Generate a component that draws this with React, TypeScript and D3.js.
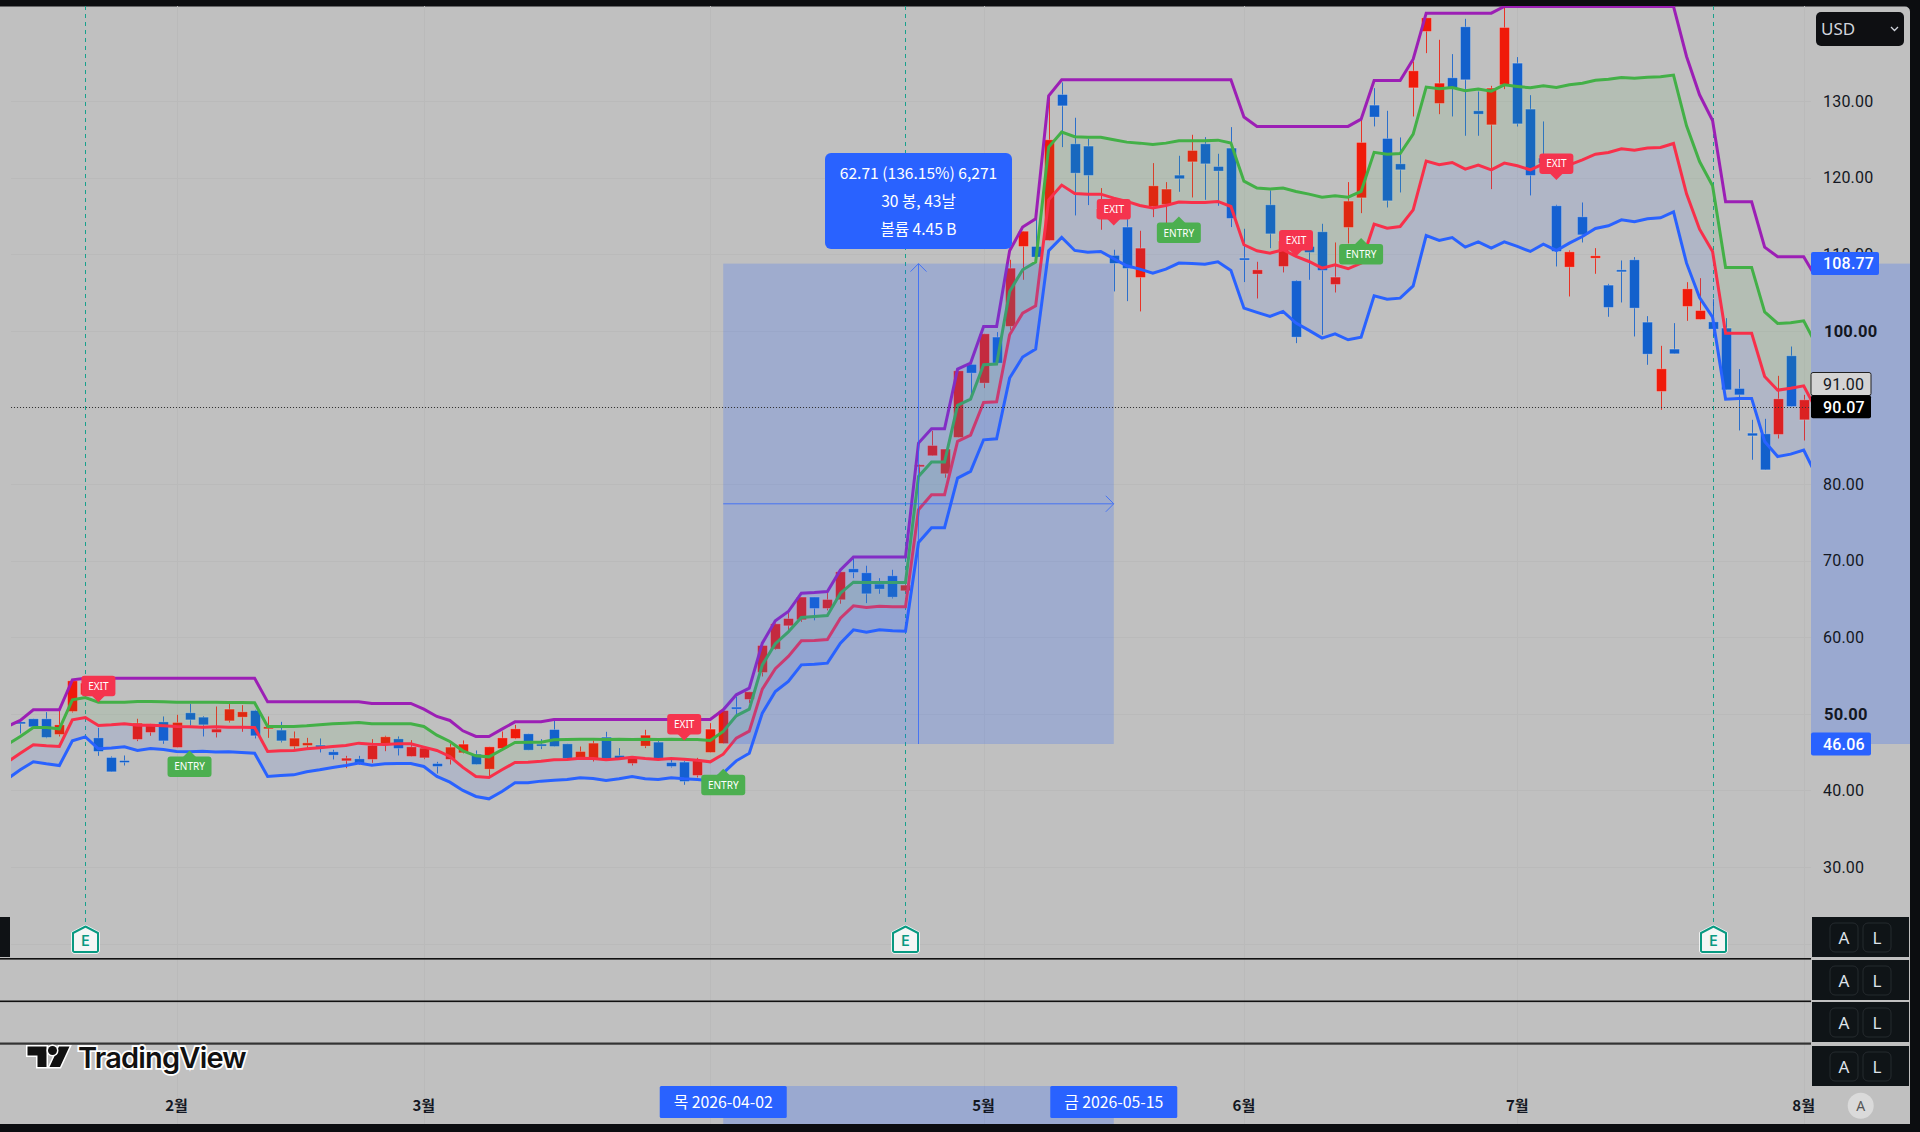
import { useRef, useEffect } from 'react';
import * as d3 from 'd3';

// candles, one row per ten bars
const opens = [
  48.95, 49.35, 49.35, 47.3, 50.3, 52.5, 46.86, 44.3, 43.9, 46.65,
  47.56, 48.95, 45.6, 50.13, 49.56, 47.56, 49.08, 49.56, 50.43, 48.08,
  47.87, 45.73, 45.86, 45.91, 45.04, 43.86, 44.12, 44.04, 46.04, 46.73,
  44.43, 44.25, 43.51, 44.04, 44.91, 44.73, 42.77, 45.47, 46.78, 47.39,
  46.04, 47.95, 46.08, 44.17, 44.08, 46.95, 44.56, 43.51, 45.78, 46.3,
  43.64, 43.69, 41.95, 44.95, 46.12, 50.87, 51.87, 55.39, 58.44, 61.49,
  62.27, 65.24, 63.75, 64.89, 68.93, 68.41, 66.93, 68.02, 66.06, 82.29,
  83.69, 81.34, 86.08, 95.61, 93.17, 99.18, 100.57, 111.01, 111.01, 111.79,
  130.85, 124.41, 124.11, 114.67, 109.84, 113.54, 106.96, 116.23, 116.5, 120.32,
  122.06, 124.41, 121.45, 123.85, 109.49, 107.4, 116.45, 108.4, 106.53, 111.01,
  112.93, 106.05, 113.49, 117.36, 129.46, 125.11, 121.8, 131.72, 139.08, 129.68,
  133.03, 139.69, 128.72, 126.89, 132.11, 134.94, 128.94, 122.54, 116.32, 108.31,
  114.88, 109.48, 105.96, 107.96, 109.27, 101.13, 92.08, 97.61, 103.18, 101.48,
  101.17, 100.35, 92.47, 86.64, 86.55, 86.47, 96.74, 88.38,
];
const highs = [
  48.95, 49.35, 50.22, 50.52, 54.31, 54.2, 48.17, 44.43, 44.56, 49.35,
  48.69, 49.65, 49.87, 51.3, 49.69, 50.95, 51.3, 51.13, 50.52, 49.65,
  48.95, 47.69, 46.86, 46.78, 45.3, 44.51, 44.51, 46.69, 47.13, 47.04,
  46.56, 45.52, 43.73, 46.08, 46.52, 45.21, 45.69, 47.69, 48.56, 47.39,
  46.69, 49.08, 46.08, 45.73, 46.52, 47.65, 45.52, 44.21, 47.91, 46.52,
  43.99, 43.86, 44.25, 48.78, 50.52, 52.26, 52.87, 58.92, 61.83, 63.14,
  65.24, 65.24, 65.76, 68.54, 70.33, 69.33, 67.71, 68.8, 66.9, 82.55,
  86.95, 84.56, 94.78, 95.61, 99.61, 99.83, 109.27, 113.0, 114.62, 131.03,
  132.42, 127.81, 125.07, 118.63, 110.58, 114.58, 113.06, 121.89, 119.41, 122.85,
  125.59, 125.28, 123.11, 126.59, 113.32, 109.01, 118.32, 111.9, 106.6, 113.0,
  113.97, 111.53, 119.41, 127.55, 131.68, 128.72, 125.24, 135.16, 140.86, 137.99,
  136.12, 140.73, 131.24, 131.98, 142.34, 135.73, 130.76, 127.33, 116.45, 110.49,
  116.75, 110.79, 106.13, 109.18, 109.62, 101.91, 98.04, 101.0, 106.35, 106.87,
  104.13, 101.65, 95.0, 88.38, 88.51, 94.12, 97.95, 91.64,
];
const lows = [
  47.43, 48.3, 46.82, 47.04, 50.17, 52.3, 44.51, 42.43, 43.25, 46.43,
  47.13, 46.08, 45.6, 48.47, 47.04, 46.91, 48.87, 47.65, 46.78, 46.86,
  46.26, 45.43, 45.52, 44.95, 44.04, 42.9, 43.34, 43.6, 45.12, 44.56,
  44.43, 44.08, 42.2, 43.38, 44.82, 43.38, 41.82, 45.39, 46.69, 45.25,
  45.39, 45.73, 44.17, 44.17, 43.77, 44.12, 44.17, 43.25, 45.52, 44.17,
  42.99, 40.73, 41.69, 44.95, 46.12, 49.65, 51.39, 54.87, 58.35, 60.88,
  62.0, 62.2, 63.5, 64.37, 67.71, 64.45, 65.67, 65.06, 65.9, 81.2,
  83.69, 80.81, 86.08, 91.52, 92.52, 95.78, 100.13, 106.66, 109.62, 111.79,
  123.98, 115.06, 116.41, 113.19, 105.14, 103.87, 102.53, 114.84, 114.06, 118.15,
  117.41, 117.1, 116.32, 113.54, 106.36, 104.22, 110.79, 107.62, 98.39, 106.66,
  99.48, 105.0, 111.4, 115.36, 126.68, 116.1, 118.06, 127.98, 136.25, 128.28,
  127.98, 125.46, 125.46, 118.49, 131.55, 126.67, 117.67, 121.7, 108.4, 104.48,
  111.53, 107.44, 101.83, 103.7, 99.26, 95.56, 89.69, 97.0, 101.3, 101.48,
  99.26, 92.3, 86.99, 83.16, 81.85, 85.94, 90.12, 85.68,
];
const closes = [
  48.78, 48.3, 46.91, 48.56, 54.31, 54.0, 45.08, 42.43, 43.82, 48.78,
  48.69, 46.47, 48.87, 49.21, 48.56, 48.0, 50.61, 50.26, 47.13, 48.3,
  46.47, 46.82, 46.21, 45.73, 44.6, 44.21, 43.47, 45.86, 47.0, 45.47,
  45.69, 45.52, 43.12, 45.65, 46.04, 43.38, 45.69, 46.86, 48.04, 45.25,
  45.82, 45.73, 44.17, 45.08, 46.17, 44.12, 44.17, 44.21, 47.21, 44.17,
  43.12, 41.16, 43.99, 48.0, 50.43, 50.78, 52.87, 58.92, 61.75, 62.44,
  65.24, 63.75, 64.93, 68.54, 68.45, 65.67, 66.28, 65.23, 66.8, 82.51,
  85.03, 84.56, 94.78, 94.48, 99.61, 95.78, 108.18, 113.0, 109.62, 124.94,
  129.37, 120.58, 120.28, 115.9, 108.79, 108.14, 110.79, 118.93, 118.5, 119.85,
  123.54, 121.8, 120.85, 114.67, 109.31, 107.96, 112.66, 111.71, 99.17, 110.23,
  107.88, 107.01, 116.93, 124.59, 127.9, 116.97, 121.02, 133.94, 140.86, 132.33,
  131.68, 132.77, 128.28, 131.68, 139.6, 127.02, 120.28, 121.9, 110.36, 110.31,
  112.53, 109.79, 103.05, 107.74, 102.96, 96.95, 95.04, 97.0, 105.48, 102.65,
  100.22, 92.3, 91.64, 86.29, 81.85, 91.12, 90.12, 90.99,
];

// bands start one bar before the first candle and run one bar past the last
const BAND_START = -1;
const purpleBand = [
  48.35, 49.13, 50.52, 50.52, 50.52, 54.44, 54.65, 54.65, 54.65, 54.65, 54.65,
  54.65, 54.65, 54.65, 54.65, 54.65, 54.65, 54.65, 54.65, 54.65, 51.56,
  51.56, 51.56, 51.56, 51.56, 51.56, 51.56, 51.56, 51.35, 51.35, 51.35,
  51.35, 50.61, 49.65, 49.13, 47.78, 47.04, 47.04, 48.0, 48.95, 48.95,
  48.95, 49.26, 49.26, 49.26, 49.26, 49.26, 49.26, 49.26, 49.26, 49.26,
  49.26, 49.26, 49.26, 49.26, 50.52, 52.48, 53.35, 59.22, 62.14, 63.35,
  65.75, 65.84, 65.97, 68.79, 70.46, 70.46, 70.46, 70.46, 70.46, 85.34,
  87.21, 87.21, 95.0, 95.78, 100.57, 100.57, 110.45, 113.54, 114.62, 130.68,
  132.77, 132.77, 132.77, 132.77, 132.77, 132.77, 132.77, 132.77, 132.77, 132.77,
  132.77, 132.77, 132.77, 132.77, 127.9, 126.68, 126.68, 126.68, 126.68, 126.68,
  126.68, 126.68, 126.68, 127.63, 132.68, 132.68, 132.68, 135.46, 141.47, 141.47,
  141.47, 141.47, 141.47, 141.47, 142.34, 142.34, 142.34, 142.34, 142.34, 142.34,
  142.34, 142.34, 142.34, 142.34, 142.34, 142.34, 142.34, 142.34, 135.81, 130.81,
  127.46, 116.84, 116.84, 116.84, 110.92, 109.66, 109.66, 109.66, 106.79,
];
const greenBand = [
  46.0, 47.04, 48.21, 48.21, 48.04, 51.83, 52.13, 51.52, 51.52, 51.52, 51.61,
  51.61, 51.57, 51.52, 51.52, 51.5, 51.5, 51.48, 51.46, 51.43, 48.34,
  48.34, 48.34, 48.43, 48.56, 48.69, 48.78, 48.87, 48.69, 48.69, 48.69,
  48.69, 48.34, 47.21, 46.39, 45.17, 44.52, 44.38, 45.3, 46.26, 46.3,
  46.3, 46.6, 46.65, 46.69, 46.69, 46.65, 46.69, 46.65, 46.69, 46.65,
  46.69, 46.65, 46.65, 46.52, 47.69, 49.74, 50.61, 56.39, 59.15, 60.7,
  62.57, 62.7, 62.83, 65.75, 67.18, 67.14, 67.14, 67.14, 67.14, 80.99,
  82.86, 82.86, 90.26, 91.08, 95.57, 95.65, 105.14, 107.97, 108.97, 123.98,
  125.94, 125.33, 125.28, 125.28, 124.94, 124.63, 124.5, 124.33, 124.5, 124.8,
  124.8, 124.8, 124.89, 124.5, 119.54, 118.63, 118.5, 118.63, 118.19, 117.84,
  117.45, 117.63, 117.45, 118.19, 123.3, 123.06, 123.15, 125.67, 131.81, 131.59,
  131.77, 131.33, 131.55, 131.29, 132.11, 131.9, 131.72, 131.98, 131.77, 132.11,
  132.33, 132.72, 132.85, 133.07, 132.98, 133.11, 133.16, 133.38, 126.76, 122.1,
  118.93, 108.27, 108.27, 108.27, 102.48, 100.96, 101.04, 101.3, 98.08,
];
const redBand = [
  43.69, 44.86, 45.95, 45.82, 45.73, 49.21, 49.52, 48.47, 48.56, 48.69, 48.52,
  48.52, 48.43, 48.34, 48.3, 48.26, 48.3, 48.26, 48.26, 48.21, 45.08,
  45.17, 45.21, 45.43, 45.56, 45.73, 45.86, 46.17, 46.04, 46.0, 46.08,
  46.08, 45.65, 45.21, 44.43, 43.0, 41.82, 41.69, 42.69, 43.64, 43.69,
  43.82, 43.99, 44.04, 44.21, 44.17, 43.99, 44.12, 44.34, 44.17, 44.04,
  44.17, 44.08, 43.95, 43.73, 44.73, 46.82, 47.73, 53.22, 55.9, 57.5,
  59.53, 59.57, 59.7, 62.48, 64.09, 63.88, 64.05, 63.96, 63.96, 76.64,
  78.6, 78.6, 85.56, 86.38, 90.65, 90.74, 99.48, 102.31, 103.27, 117.1,
  119.02, 117.93, 117.84, 117.84, 117.32, 116.89, 116.36, 116.02, 116.36, 116.8,
  116.75, 116.75, 116.89, 116.23, 111.23, 110.45, 110.14, 110.58, 109.71, 109.05,
  108.18, 108.62, 108.1, 108.84, 113.92, 113.4, 113.62, 115.79, 122.15, 121.67,
  121.97, 121.1, 121.63, 121.02, 121.89, 121.54, 121.02, 121.8, 121.45, 121.67,
  122.32, 123.06, 123.28, 123.76, 123.58, 123.85, 123.93, 124.45, 117.88, 113.27,
  110.35, 99.69, 99.69, 99.69, 94.04, 92.25, 92.51, 92.82, 89.6,
];
const blueBand = [
  41.47, 42.69, 43.73, 43.47, 43.25, 46.47, 46.99, 45.43, 45.52, 45.69, 45.21,
  45.47, 45.34, 45.08, 45.04, 45.12, 45.0, 45.04, 44.95, 44.86, 41.82,
  41.95, 42.03, 42.43, 42.69, 42.99, 43.25, 43.56, 43.3, 43.47, 43.51,
  43.51, 43.12, 41.82, 41.08, 39.99, 39.21, 38.9, 39.86, 40.99, 40.99,
  41.21, 41.34, 41.42, 41.64, 41.56, 41.3, 41.51, 41.82, 41.51, 41.42,
  41.64, 41.51, 41.42, 41.25, 42.25, 43.86, 44.86, 50.09, 52.9, 54.22,
  56.39, 56.48, 56.61, 59.22, 60.96, 60.66, 60.96, 60.83, 60.79, 72.37,
  74.29, 74.29, 80.77, 81.64, 85.77, 85.9, 93.83, 96.57, 97.61, 110.45,
  112.19, 110.49, 110.27, 110.36, 109.4, 108.49, 108.05, 107.53, 108.05, 108.84,
  108.79, 108.7, 109.01, 107.88, 102.96, 102.4, 101.87, 102.53, 101.0, 100.05,
  99.04, 99.61, 98.83, 99.17, 104.57, 104.13, 104.26, 105.87, 112.44, 111.79,
  112.18, 110.92, 111.62, 110.79, 111.62, 111.01, 110.36, 111.31, 110.49, 111.44,
  112.31, 113.36, 113.71, 114.49, 114.23, 114.62, 114.75, 115.53, 108.83, 104.35,
  101.78, 91.08, 91.17, 91.17, 85.55, 83.59, 83.9, 84.42, 80.98,
];

// signals: bar index and the price the pointer touches
const exitBars = [6, 51, 84, 98, 118];
const exitPrices = [51.5, 46.5, 113.75, 109.7, 119.7];
const entryBars = [13, 54, 89, 103];
const entryPrices = [45.21, 42.82, 114.92, 112.1];
const earningsBars = [5, 68, 130];

const priceTicks = [130, 120, 110, 100, 90, 80, 70, 60, 50, 40, 30];
const boldTicks = [100, 50];
const gridOnly = [20];
// 4월 has a grid line but its label sits under the range date tag
const gridBars = [12, 31, 53, 74, 94, 115, 137];
const monthBars = [12, 31, 74, 94, 115, 137];
const monthLabels = ['2월', '3월', '5월', '6월', '7월', '8월'];

// price range tool
const rangeFromBar = 54;
const rangeToBar = 84;
const rangeLow = 46.06;
const rangeHigh = 108.77;
const rangeFromLabel = '목 2026-04-02';
const rangeToLabel = '금 2026-05-15';
const rangeInfo = ['62.71 (136.15%) 6,271', '30 봉, 43날', '볼륨 4.45 B'];
const lastPrice = 90.07;
const prevPrice = 91.0;
const paneRows = [917, 960, 1002, 1046];

const KR = '"Noto Sans CJK KR", "Noto Sans", sans-serif';
const AXIS = 'Roboto, sans-serif';
const BG = '#c0c0c0';
const BLUE = '#2962ff';

export default function App() {
  const svgRef = useRef<SVGSVGElement>(null);

  useEffect(() => {
    if (!svgRef.current) return;
    const svg = d3.select(svgRef.current);
    svg.selectAll('*').remove();

    const x = d3.scaleLinear().domain([0, 137]).range([20.3, 1803.7]);
    const y = d3.scaleLinear().domain([30, 130]).range([867, 101]);
    const left = 11;
    const right = 1811;

    svg.append('rect').attr('width', 1920).attr('height', 1132).attr('fill', '#0c0d10');
    svg.append('path').attr('fill', BG)
      .attr('d', 'M0,6.5H1905a5,5 0 0 1 5,5V1124H0Z');

    svg.append('clipPath').attr('id', 'plot').append('rect')
      .attr('x', left).attr('y', 6).attr('width', right - left).attr('height', 950);

    // grid
    const grid = svg.append('g').attr('stroke', '#bababa').attr('stroke-width', 1);
    [...priceTicks, ...gridOnly].forEach((t) => {
      grid.append('line').attr('x1', left).attr('x2', right)
        .attr('y1', Math.round(y(t)) + 0.5).attr('y2', Math.round(y(t)) + 0.5);
    });
    gridBars.forEach((b) => {
      grid.append('line').attr('y1', 6).attr('y2', 1124)
        .attr('x1', Math.round(x(b)) + 0.5).attr('x2', Math.round(x(b)) + 0.5);
    });

    const plot = svg.append('g').attr('clip-path', 'url(#plot)');

    // earnings guides
    earningsBars.forEach((b) => {
      const gx = Math.round(x(b)) + 0.5;
      plot.append('line').attr('x1', gx).attr('x2', gx).attr('y1', 6).attr('y2', 925)
        .attr('stroke', '#18a08c').attr('stroke-width', 1).attr('stroke-dasharray', '4 4');
    });

    // candles
    const barIdx = d3.range(opens.length);
    const color = (i: number) => (closes[i] >= opens[i] ? '#f01a0a' : '#1260cc');
    plot.selectAll('.wick').data(barIdx).join('line')
      .attr('class', 'wick')
      .attr('x1', (i) => Math.round(x(i)) + 0.5).attr('x2', (i) => Math.round(x(i)) + 0.5)
      .attr('y1', (i) => y(highs[i])).attr('y2', (i) => y(lows[i]))
      .attr('stroke', color).attr('stroke-width', 1).attr('stroke-opacity', 0.85);
    plot.selectAll('.body').data(barIdx).join('rect')
      .attr('class', 'body')
      .attr('x', (i) => Math.round(x(i)) - 4.5).attr('width', 10)
      .attr('y', (i) => y(Math.max(opens[i], closes[i])))
      .attr('height', (i) => Math.max(2, Math.abs(y(opens[i]) - y(closes[i]))))
      .attr('fill', color).attr('stroke', '#fff').attr('stroke-opacity', 0.25).attr('stroke-width', 1);

    // band fills and lines
    const bandIdx = d3.range(purpleBand.length);
    const bx = (i: number) => x(i + BAND_START);
    const fill = (top: number[], bottom: number[], c: string) => {
      const area = d3.area<number>().x(bx).y0((i) => y(top[i])).y1((i) => y(bottom[i]));
      plot.append('path').attr('d', area(bandIdx)).attr('fill', c);
    };
    fill(greenBand, redBand, 'rgba(76,175,80,0.1)');
    fill(redBand, blueBand, 'rgba(41,98,255,0.1)');
    const bands: [number[], string][] = [
      [purpleBand, '#9c1fb5'], [greenBand, '#43b047'], [redBand, '#f8304a'], [blueBand, '#2962ff'],
    ];
    bands.forEach(([vals, c]) => {
      const line = d3.line<number>().x(bx).y((i) => y(vals[i]));
      plot.append('path').attr('d', line(bandIdx)).attr('fill', 'none')
        .attr('stroke', c).attr('stroke-width', 3).attr('stroke-linejoin', 'miter');
    });

    // price range tool, sits over everything in the plot
    const rx0 = x(rangeFromBar);
    const rx1 = x(rangeToBar);
    const ry0 = y(rangeHigh);
    const ry1 = y(rangeLow);
    const rmx = x((rangeFromBar + rangeToBar) / 2);
    const rmy = (ry0 + ry1) / 2;
    plot.append('rect').attr('x', rx0).attr('y', ry0).attr('width', rx1 - rx0).attr('height', ry1 - ry0)
      .attr('fill', BLUE).attr('fill-opacity', 0.22);
    const tool = svg.append('g').attr('stroke', BLUE).attr('stroke-width', 1).attr('fill', 'none').attr('opacity', 0.75);
    tool.append('line').attr('x1', rmx).attr('x2', rmx).attr('y1', ry0).attr('y2', ry1);
    tool.append('line').attr('x1', rx0).attr('x2', rx1).attr('y1', rmy).attr('y2', rmy);
    tool.append('path').attr('d', `M${rmx - 8},${ry0 + 8}L${rmx},${ry0}L${rmx + 8},${ry0 + 8}`);
    tool.append('path').attr('d', `M${rx1 - 8},${rmy - 8}L${rx1},${rmy}L${rx1 - 8},${rmy + 8}`);

    // last price line
    svg.append('line').attr('x1', left).attr('x2', right)
      .attr('y1', Math.round(y(lastPrice)) + 0.5).attr('y2', Math.round(y(lastPrice)) + 0.5)
      .attr('stroke', '#333').attr('stroke-width', 1).attr('stroke-dasharray', '1 2');

    // signal labels
    exitBars.forEach((b, k) => {
      const cx = x(b);
      const tip = y(exitPrices[k]);
      const g = svg.append('g');
      g.append('path').attr('fill', '#f5344e')
        .attr('d', `M${cx - 7},${tip - 7}L${cx},${tip}L${cx + 7},${tip - 7}Z`);
      g.append('rect').attr('x', cx - 17).attr('y', tip - 26.5).attr('width', 34).attr('height', 20.5)
        .attr('rx', 3).attr('fill', '#f5344e');
      g.append('text').attr('x', cx).attr('y', tip - 12.5).attr('text-anchor', 'middle')
        .attr('font-family', '"Noto Sans", sans-serif').attr('font-size', 10).attr('font-weight', 400)
        .attr('fill', '#fff').text('EXIT');
    });
    entryBars.forEach((b, k) => {
      const cx = x(b);
      const tip = y(entryPrices[k]);
      const g = svg.append('g');
      g.append('path').attr('fill', '#4caf50')
        .attr('d', `M${cx - 7},${tip + 7}L${cx},${tip}L${cx + 7},${tip + 7}Z`);
      g.append('rect').attr('x', cx - 22).attr('y', tip + 6).attr('width', 44).attr('height', 20.5)
        .attr('rx', 3).attr('fill', '#4caf50');
      g.append('text').attr('x', cx).attr('y', tip + 20).attr('text-anchor', 'middle')
        .attr('font-family', '"Noto Sans", sans-serif').attr('font-size', 10).attr('font-weight', 400)
        .attr('fill', '#fff').text('ENTRY');
    });

    // E markers
    earningsBars.forEach((b) => {
      const g = svg.append('g').attr('transform', `translate(${Math.round(x(b)) + 0.5},0)`);
      const d = 'M0,926.5L12.5,933V950.5a1.5,1.5 0 0 1 -1.5,1.5H-11a1.5,1.5 0 0 1 -1.5,-1.5V933Z';
      g.append('path').attr('d', d).attr('fill', '#fff').attr('stroke', '#fff').attr('stroke-width', 3.5).attr('stroke-linejoin', 'round');
      g.append('path').attr('d', d).attr('fill', '#f4f6f5').attr('stroke', '#089981').attr('stroke-width', 2).attr('stroke-linejoin', 'round');
      g.append('text').attr('y', 946).attr('text-anchor', 'middle').attr('font-family', 'Inter, sans-serif')
        .attr('font-size', 14).attr('font-weight', 600).attr('fill', '#089981').text('E');
    });

    // tooltip
    svg.append('rect').attr('x', rmx - 93.5).attr('y', 153).attr('width', 187).attr('height', 96)
      .attr('rx', 6).attr('fill', BLUE);
    rangeInfo.forEach((t, k) => {
      svg.append('text').attr('x', rmx).attr('y', 179 + k * 28).attr('text-anchor', 'middle')
        .attr('font-family', KR).attr('font-size', 15.6).attr('font-weight', 400).attr('fill', '#fff').text(t);
    });

    // right axis
    svg.append('rect').attr('x', right).attr('y', ry0).attr('width', 1910 - right).attr('height', ry1 - ry0)
      .attr('fill', BLUE).attr('fill-opacity', 0.25);
    priceTicks.forEach((t) => {
      const bold = boldTicks.includes(t);
      svg.append('text').attr('x', bold ? 1824 : 1823).attr('y', y(t)).attr('dy', '0.36em')
        .attr('font-family', AXIS).attr('font-size', bold ? 16.5 : 16).attr('font-weight', bold ? 700 : 400)
        .attr('letter-spacing', 0.2).attr('fill', '#131722').text(t.toFixed(2));
    });
    const tag = (val: number, cy: number, w: number, bg: string, fg: string, stroke?: string) => {
      svg.append('rect').attr('x', right).attr('y', cy - 11.5).attr('width', w).attr('height', 23)
        .attr('rx', 2).attr('fill', bg).attr('stroke', stroke ?? 'none');
      svg.append('text').attr('x', 1823).attr('y', cy).attr('dy', '0.36em')
        .attr('font-family', AXIS).attr('font-size', 16).attr('font-weight', bg === '#d4d4d4' ? 400 : 500)
        .attr('letter-spacing', 0.2).attr('fill', fg).text(val.toFixed(2));
    };
    tag(rangeHigh, y(rangeHigh), 68, BLUE, '#fff');
    tag(rangeLow, y(rangeLow), 60, BLUE, '#fff');
    tag(prevPrice, 384, 60, '#d4d4d4', '#131722', '#222');
    tag(lastPrice, y(lastPrice), 60, '#000', '#fff');

    // currency selector
    svg.append('rect').attr('x', 1816).attr('y', 12).attr('width', 88).attr('height', 34)
      .attr('rx', 5).attr('fill', '#0e0f12');
    svg.append('text').attr('x', 1821).attr('y', 35).attr('font-family', '"Noto Sans", sans-serif')
      .attr('font-size', 17).attr('fill', '#d1d4dc').text('USD');
    svg.append('path').attr('d', 'M1891,27l3.5,3.5l3.5,-3.5').attr('fill', 'none').attr('stroke', '#d1d4dc').attr('stroke-width', 1.3);

    // pane separators and their buttons
    [958, 1000.5, 1042.5].forEach((sy, k) => {
      svg.append('rect').attr('x', 0).attr('y', sy).attr('width', right).attr('height', k === 2 ? 2.2 : 1.6).attr('fill', k === 2 ? '#333' : '#111');
    });
    svg.append('rect').attr('x', 0).attr('y', 917).attr('width', 10).attr('height', 40).attr('fill', '#0f1215');
    paneRows.forEach((top) => {
      svg.append('rect').attr('x', 1812).attr('y', top).attr('width', 97).attr('height', 40).attr('fill', '#0f1417');
      ['A', 'L'].forEach((t, k) => {
        const bx0 = 1830 + k * 33;
        svg.append('rect').attr('x', bx0).attr('y', top + 6).attr('width', 28).attr('height', 29)
          .attr('rx', 5).attr('fill', 'none').attr('stroke', '#252a2e').attr('stroke-width', 1);
        svg.append('text').attr('x', bx0 + 14).attr('y', top + 26.5).attr('text-anchor', 'middle')
          .attr('font-family', '"Noto Sans", sans-serif').attr('font-size', 17).attr('fill', '#dfe3ea').text(t);
      });
    });

    // time axis
    svg.append('rect').attr('x', rx0).attr('y', 1086).attr('width', rx1 - rx0).attr('height', 38)
      .attr('fill', BLUE).attr('fill-opacity', 0.25);
    monthBars.forEach((b, k) => {
      svg.append('text').attr('x', x(b)).attr('y', 1111).attr('text-anchor', 'middle')
        .attr('font-family', KR).attr('font-size', 15).attr('font-weight', 700).attr('fill', '#131722').text(monthLabels[k]);
    });
    [[rx0, rangeFromLabel], [rx1, rangeToLabel]].forEach(([cx, t]) => {
      svg.append('rect').attr('x', (cx as number) - 63.5).attr('y', 1086).attr('width', 127).attr('height', 32)
        .attr('rx', 1.5).attr('fill', BLUE);
      svg.append('text').attr('x', cx as number).attr('y', 1108).attr('text-anchor', 'middle')
        .attr('font-family', KR).attr('font-size', 15.8).attr('font-weight', 400).attr('fill', '#fff').text(t as string);
    });
    svg.append('circle').attr('cx', 1860.7).attr('cy', 1105.7).attr('r', 13).attr('fill', '#dadada');
    svg.append('text').attr('x', 1860.7).attr('y', 1111).attr('text-anchor', 'middle')
      .attr('font-family', '"Noto Sans", sans-serif').attr('font-size', 14).attr('fill', '#555').text('A');

    // watermark
    const logo = svg.append('g');
    const mark = 'M27.5,1046.5H46.5V1067H37.5V1055.5H27.5ZM59,1046.5H69.5L60,1067H49.5Z';
    logo.append('path').attr('d', mark).attr('fill', '#111').attr('stroke', '#fff').attr('stroke-width', 3).attr('paint-order', 'stroke');
    logo.append('circle').attr('cx', 52.5).attr('cy', 1050.5).attr('r', 4.5).attr('fill', '#111').attr('stroke', '#fff').attr('stroke-width', 3).attr('paint-order', 'stroke');
    logo.append('text').attr('x', 78).attr('y', 1067.5).attr('font-family', 'Inter, sans-serif')
      .attr('font-size', 29).attr('font-weight', 600).attr('letter-spacing', -0.8)
      .attr('fill', '#111').attr('stroke', '#fff').attr('stroke-width', 3.5).attr('paint-order', 'stroke').text('TradingView');
  }, []);

  return <svg ref={svgRef} width={1920} height={1132} style={{ position: 'absolute', left: 0, top: 0, display: 'block' }} />;
}
